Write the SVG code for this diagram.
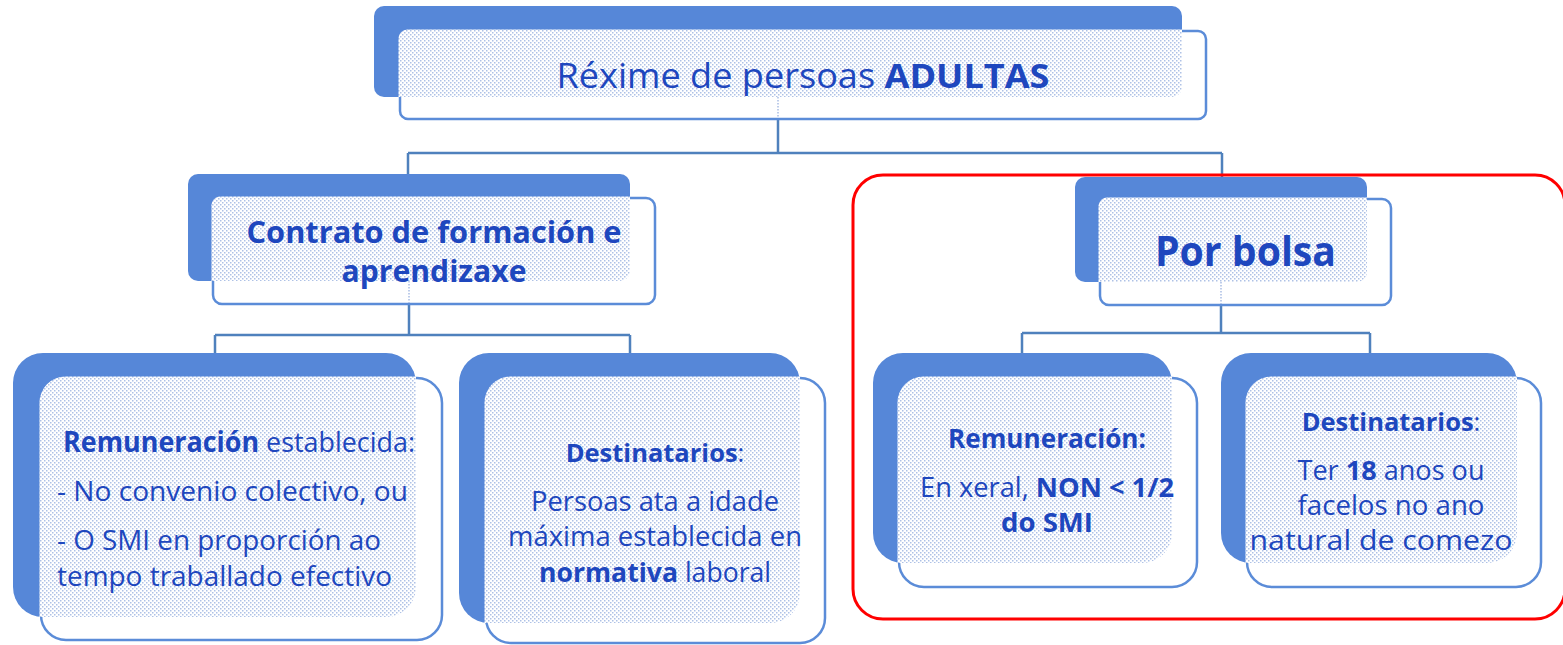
<svg xmlns="http://www.w3.org/2000/svg" width="1563" height="645" viewBox="0 0 1563 645">
<style>
.back{fill:#5687D8}
.front{fill:#fff;stroke:#5B8CD8;stroke-width:2.5}
.pat{fill:url(#dots)}
.t{font-family:"Open Sans","Noto Sans","DejaVu Sans",sans-serif;fill:#1E47BE}
.b{font-weight:bold}
.conn{fill:none;stroke:#4F81BD;stroke-width:2.5}
.thru{fill:none;stroke:#A9BDE3;stroke-width:1.5;stroke-dasharray:1.5 1.5}
</style>
<defs>
<pattern id="dots" width="4" height="4" patternUnits="userSpaceOnUse">
<rect width="4" height="4" fill="#fff"/>
<rect x="0" y="0" width="1.5" height="1.5" fill="#AEC1E6"/>
<rect x="2" y="2" width="1.5" height="1.5" fill="#AEC1E6"/>
</pattern>
</defs>

<g id="connectors">
<path class="conn" d="M778,119 V153 M408,153 H1222 M408,153 V175 M1222,153 V178"/>
<path class="conn" d="M409,304 V335 M215,335 H630 M215,335 V353 M630,335 V353"/>
<path class="conn" d="M1221,305 V333 M1022,333 H1370 M1022,333 V353 M1370,333 V353"/>
</g>

<g id="node-top">
<rect class="back" x="374" y="6" width="808" height="91" rx="10"/>
<rect class="front" x="400" y="31" width="806" height="88" rx="8"/>
<path class="pat" d="M398.5,39 A9,9 0 0 1 407.5,29.5 H1182 V87 A10,10 0 0 1 1172,97 H398.5 Z"/>
<path class="thru" d="M778,97 V118"/>
<text class="t" x="803" y="88" text-anchor="middle" font-size="34" textLength="493" lengthAdjust="spacingAndGlyphs">Réxime de persoas <tspan class="b">ADULTAS</tspan></text>
</g>

<g id="node-contrato">
<rect class="back" x="188" y="174" width="442" height="107" rx="10"/>
<rect class="front" x="213" y="198" width="442" height="106" rx="9"/>
<path class="pat" d="M211.5,207 A9,9 0 0 1 220.5,196.5 H630 V271 A10,10 0 0 1 620,281 H211.5 Z"/>
<path class="thru" d="M409,281 V303"/>
<text class="t b" x="434" y="243" text-anchor="middle" font-size="31" textLength="375" lengthAdjust="spacingAndGlyphs">Contrato de formación e</text>
<text class="t b" x="434" y="282" text-anchor="middle" font-size="31" textLength="185" lengthAdjust="spacingAndGlyphs">aprendizaxe</text>
</g>

<g id="node-bolsa">
<rect class="back" x="1075" y="177" width="292" height="105" rx="10"/>
<rect class="front" x="1100" y="199" width="291" height="106" rx="9"/>
<path class="pat" d="M1098.5,208 A9,9 0 0 1 1107.5,197.5 H1367 V272 A10,10 0 0 1 1357,282 H1098.5 Z"/>
<path class="thru" d="M1221,282 V304"/>
<text class="t b" x="1245.5" y="266" text-anchor="middle" font-size="42" textLength="181" lengthAdjust="spacingAndGlyphs">Por bolsa</text>
</g>

<g id="node-remuneracion-1">
<rect class="back" x="13" y="353" width="403" height="264" rx="30"/>
<rect class="front" x="41" y="378" width="401" height="262" rx="25"/>
<path class="pat" d="M39.5,403 A26,26 0 0 1 65.5,376.5 H416 V587 A30,30 0 0 1 386,617 H39.5 Z"/>
<text class="t" x="63" y="452" font-size="28" textLength="352" lengthAdjust="spacingAndGlyphs"><tspan class="b">Remuneración</tspan> establecida:</text>
<text class="t" x="57" y="501" font-size="28" textLength="351" lengthAdjust="spacingAndGlyphs">- No convenio colectivo, ou</text>
<text class="t" x="57" y="550" font-size="28" textLength="324" lengthAdjust="spacingAndGlyphs">- O SMI en proporción ao</text>
<text class="t" x="57" y="586" font-size="28" textLength="335" lengthAdjust="spacingAndGlyphs">tempo traballado efectivo</text>
</g>

<g id="node-destinatarios-1">
<rect class="back" x="459" y="353" width="341" height="270" rx="30"/>
<rect class="front" x="486" y="378" width="339" height="265" rx="25"/>
<path class="pat" d="M484.5,403 A26,26 0 0 1 510.5,376.5 H800 V593 A30,30 0 0 1 770,623 H484.5 Z"/>
<text class="t" x="655" y="462" text-anchor="middle" font-size="25.5"><tspan class="b">Destinatarios</tspan>:</text>
<text class="t" x="655" y="511" text-anchor="middle" font-size="27" textLength="248" lengthAdjust="spacingAndGlyphs">Persoas ata a idade</text>
<text class="t" x="655" y="546" text-anchor="middle" font-size="27" textLength="294" lengthAdjust="spacingAndGlyphs">máxima establecida en</text>
<text class="t" x="655" y="582" text-anchor="middle" font-size="27" textLength="232" lengthAdjust="spacingAndGlyphs"><tspan class="b">normativa</tspan> laboral</text>
</g>

<g id="node-remuneracion-2">
<rect class="back" x="873" y="353" width="299" height="210" rx="30"/>
<rect class="front" x="899" y="378" width="298" height="209" rx="25"/>
<path class="pat" d="M897.5,403 A26,26 0 0 1 923.5,376.5 H1172 V533 A30,30 0 0 1 1142,563 H897.5 Z"/>
<text class="t b" x="1047" y="448" text-anchor="middle" font-size="27" textLength="198" lengthAdjust="spacingAndGlyphs">Remuneración:</text>
<text class="t" x="1047" y="497" text-anchor="middle" font-size="27" textLength="254" lengthAdjust="spacingAndGlyphs">En xeral, <tspan class="b">NON &lt; 1/2</tspan></text>
<text class="t b" x="1047" y="532" text-anchor="middle" font-size="27" textLength="92" lengthAdjust="spacingAndGlyphs">do SMI</text>
</g>

<g id="node-destinatarios-2">
<rect class="back" x="1221" y="353" width="296" height="210" rx="30"/>
<rect class="front" x="1247" y="378" width="294" height="209" rx="25"/>
<path class="pat" d="M1245.5,403 A26,26 0 0 1 1271.5,376.5 H1517 V533 A30,30 0 0 1 1487,563 H1245.5 Z"/>
<text class="t" x="1391" y="431" text-anchor="middle" font-size="25.5"><tspan class="b">Destinatarios</tspan>:</text>
<text class="t" x="1391" y="480" text-anchor="middle" font-size="27" textLength="187" lengthAdjust="spacingAndGlyphs">Ter <tspan class="b">18</tspan> anos ou</text>
<text class="t" x="1391" y="515" text-anchor="middle" font-size="27" textLength="187" lengthAdjust="spacingAndGlyphs">facelos no ano</text>
<text class="t" x="1381" y="550" text-anchor="middle" font-size="27" textLength="263" lengthAdjust="spacingAndGlyphs">natural de comezo</text>
</g>

<g id="highlight">
<rect x="853" y="175" width="712" height="444" rx="30" fill="none" stroke="#FF0000" stroke-width="3"/>
</g>
</svg>
